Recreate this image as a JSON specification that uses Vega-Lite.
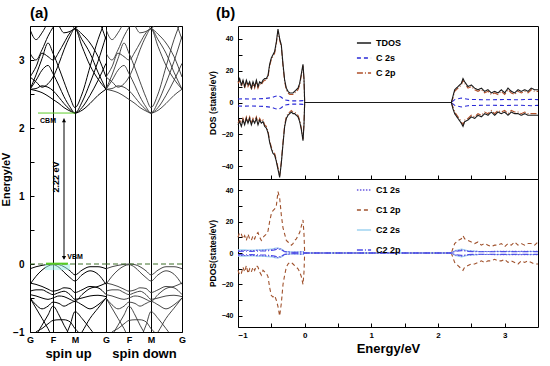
{
"$schema":"https://vega.github.io/schema/vega-lite/v6.json",
"background":"white",
"padding":{"left":0,"top":5,"right":5,"bottom":2},
"spacing":20,
"config":{
 "font":"Liberation Sans",
 "view":{"stroke":"black","strokeWidth":1},
 "mark":{"invalid":"filter"},
 "axis":{"labelFont":"Liberation Sans","titleFont":"Liberation Sans","labelFontWeight":"bold","titleFontWeight":"bold","labelColor":"black","titleColor":"black","domainColor":"black","tickColor":"black","grid":false,"labelOverlap":false},
 "legend":{"labelFont":"Liberation Sans","labelFontWeight":"bold","labelColor":"black"},
 "title":{"font":"Liberation Sans","fontWeight":"bold","fontSize":15,"anchor":"start","color":"black","frame":"group"}
},
"datasets":{
"bands":[
{"b":"C1","k":0,"e":2.57},{"b":"C1","k":6,"e":2.55},{"b":"C1","k":12,"e":2.52},{"b":"C1","k":18,"e":2.47},{"b":"C1","k":23,"e":2.42},{"b":"C1","k":29,"e":2.36},{"b":"C1","k":34,"e":2.30},{"b":"C1","k":40,"e":2.25},{"b":"C1","k":45,"e":2.22},{"b":"C1","k":52,"e":2.26},{"b":"C1","k":60,"e":2.36},{"b":"C1","k":68,"e":2.48},{"b":"C1","k":76,"e":2.57},
{"b":"C2","k":0,"e":2.57},{"b":"C2","k":6,"e":2.58},{"b":"C2","k":12,"e":2.62},{"b":"C2","k":18,"e":2.60},{"b":"C2","k":23,"e":2.55},{"b":"C2","k":29,"e":2.45},{"b":"C2","k":34,"e":2.36},{"b":"C2","k":40,"e":2.27},{"b":"C2","k":45,"e":2.22},{"b":"C2","k":52,"e":2.30},{"b":"C2","k":60,"e":2.48},{"b":"C2","k":68,"e":2.70},{"b":"C2","k":76,"e":2.95},
{"b":"C3","k":0,"e":2.57},{"b":"C3","k":6,"e":2.70},{"b":"C3","k":12,"e":2.85},{"b":"C3","k":18,"e":2.92},{"b":"C3","k":23,"e":2.80},{"b":"C3","k":29,"e":2.62},{"b":"C3","k":34,"e":2.46},{"b":"C3","k":40,"e":2.31},{"b":"C3","k":45,"e":2.22},{"b":"C3","k":52,"e":2.38},{"b":"C3","k":60,"e":2.66},{"b":"C3","k":68,"e":2.98},{"b":"C3","k":76,"e":3.35},
{"b":"C4","k":0,"e":2.57},{"b":"C4","k":6,"e":2.78},{"b":"C4","k":12,"e":3.02},{"b":"C4","k":18,"e":3.25},{"b":"C4","k":23,"e":3.10},{"b":"C4","k":29,"e":2.88},{"b":"C4","k":34,"e":2.68},{"b":"C4","k":40,"e":2.45},{"b":"C4","k":45,"e":2.30},{"b":"C4","k":52,"e":2.50},{"b":"C4","k":60,"e":2.90},{"b":"C4","k":68,"e":3.30},{"b":"C4","k":76,"e":3.60},
{"b":"C5","k":0,"e":2.75},{"b":"C5","k":6,"e":2.68},{"b":"C5","k":12,"e":2.60},{"b":"C5","k":18,"e":2.65},{"b":"C5","k":23,"e":2.75},{"b":"C5","k":29,"e":2.95},{"b":"C5","k":34,"e":3.15},{"b":"C5","k":40,"e":3.35},{"b":"C5","k":45,"e":3.46},{"b":"C5","k":52,"e":3.20},{"b":"C5","k":60,"e":2.92},{"b":"C5","k":68,"e":2.72},{"b":"C5","k":76,"e":2.57},
{"b":"C6","k":0,"e":2.75},{"b":"C6","k":6,"e":2.90},{"b":"C6","k":12,"e":3.10},{"b":"C6","k":18,"e":3.05},{"b":"C6","k":23,"e":3.00},{"b":"C6","k":29,"e":3.12},{"b":"C6","k":34,"e":3.25},{"b":"C6","k":40,"e":3.40},{"b":"C6","k":45,"e":3.46},{"b":"C6","k":52,"e":3.30},{"b":"C6","k":60,"e":3.10},{"b":"C6","k":68,"e":2.82},{"b":"C6","k":76,"e":2.57},
{"b":"C7","k":0,"e":3.10},{"b":"C7","k":6,"e":3.00},{"b":"C7","k":12,"e":3.15},{"b":"C7","k":18,"e":3.35},{"b":"C7","k":23,"e":3.48},{"b":"C7","k":29,"e":3.60},{"b":"C7","k":34,"e":3.70},{"b":"C7","k":40,"e":3.60},{"b":"C7","k":45,"e":3.46},{"b":"C7","k":52,"e":3.60},{"b":"C7","k":60,"e":3.70},{"b":"C7","k":68,"e":3.60},{"b":"C7","k":76,"e":3.30},
{"b":"C8","k":0,"e":3.45},{"b":"C8","k":6,"e":3.30},{"b":"C8","k":12,"e":3.40},{"b":"C8","k":18,"e":3.55},{"b":"C8","k":23,"e":3.65},{"b":"C8","k":29,"e":3.50},{"b":"C8","k":34,"e":3.40},{"b":"C8","k":40,"e":3.42},{"b":"C8","k":45,"e":3.46},{"b":"C8","k":52,"e":3.38},{"b":"C8","k":60,"e":3.25},{"b":"C8","k":68,"e":3.05},{"b":"C8","k":76,"e":2.75},
{"b":"V1","k":0,"e":-0.07},{"b":"V1","k":6,"e":-0.04},{"b":"V1","k":12,"e":-0.02},{"b":"V1","k":18,"e":-0.005},{"b":"V1","k":23,"e":0},{"b":"V1","k":29,"e":-0.01},{"b":"V1","k":34,"e":-0.04},{"b":"V1","k":40,"e":-0.10},{"b":"V1","k":45,"e":-0.16},{"b":"V1","k":52,"e":-0.09},{"b":"V1","k":60,"e":-0.04},{"b":"V1","k":68,"e":-0.04},{"b":"V1","k":76,"e":-0.07},
{"b":"V2","k":0,"e":-0.30},{"b":"V2","k":6,"e":-0.18},{"b":"V2","k":12,"e":-0.09},{"b":"V2","k":18,"e":-0.03},{"b":"V2","k":23,"e":-0.01},{"b":"V2","k":29,"e":-0.05},{"b":"V2","k":34,"e":-0.12},{"b":"V2","k":40,"e":-0.20},{"b":"V2","k":45,"e":-0.25},{"b":"V2","k":52,"e":-0.16},{"b":"V2","k":60,"e":-0.10},{"b":"V2","k":68,"e":-0.15},{"b":"V2","k":76,"e":-0.30},
{"b":"V3","k":0,"e":-0.28},{"b":"V3","k":6,"e":-0.30},{"b":"V3","k":12,"e":-0.33},{"b":"V3","k":18,"e":-0.37},{"b":"V3","k":23,"e":-0.40},{"b":"V3","k":29,"e":-0.38},{"b":"V3","k":34,"e":-0.35},{"b":"V3","k":40,"e":-0.36},{"b":"V3","k":45,"e":-0.42},{"b":"V3","k":52,"e":-0.38},{"b":"V3","k":60,"e":-0.33},{"b":"V3","k":68,"e":-0.35},{"b":"V3","k":76,"e":-0.45},
{"b":"V4","k":0,"e":-0.40},{"b":"V4","k":6,"e":-0.38},{"b":"V4","k":12,"e":-0.38},{"b":"V4","k":18,"e":-0.42},{"b":"V4","k":23,"e":-0.45},{"b":"V4","k":29,"e":-0.42},{"b":"V4","k":34,"e":-0.40},{"b":"V4","k":40,"e":-0.45},{"b":"V4","k":45,"e":-0.52},{"b":"V4","k":52,"e":-0.50},{"b":"V4","k":60,"e":-0.47},{"b":"V4","k":68,"e":-0.46},{"b":"V4","k":76,"e":-0.48},
{"b":"V5","k":0,"e":-0.45},{"b":"V5","k":6,"e":-0.47},{"b":"V5","k":12,"e":-0.50},{"b":"V5","k":18,"e":-0.52},{"b":"V5","k":23,"e":-0.50},{"b":"V5","k":29,"e":-0.47},{"b":"V5","k":34,"e":-0.48},{"b":"V5","k":40,"e":-0.52},{"b":"V5","k":45,"e":-0.55},{"b":"V5","k":52,"e":-0.45},{"b":"V5","k":60,"e":-0.36},{"b":"V5","k":68,"e":-0.33},{"b":"V5","k":76,"e":-0.28},
{"b":"V6","k":0,"e":-0.50},{"b":"V6","k":6,"e":-0.60},{"b":"V6","k":12,"e":-0.66},{"b":"V6","k":18,"e":-0.62},{"b":"V6","k":23,"e":-0.56},{"b":"V6","k":29,"e":-0.58},{"b":"V6","k":34,"e":-0.62},{"b":"V6","k":40,"e":-0.58},{"b":"V6","k":45,"e":-0.55},{"b":"V6","k":52,"e":-0.60},{"b":"V6","k":60,"e":-0.66},{"b":"V6","k":68,"e":-0.60},{"b":"V6","k":76,"e":-0.50},
{"b":"V7","k":0,"e":-0.50},{"b":"V7","k":6,"e":-0.65},{"b":"V7","k":12,"e":-0.80},{"b":"V7","k":18,"e":-0.95},{"b":"V7","k":23,"e":-1.10},{"b":"V7","k":29,"e":-1.20},{"b":"V7","k":34,"e":-1.10},{"b":"V7","k":40,"e":-0.90},{"b":"V7","k":45,"e":-0.70},{"b":"V7","k":52,"e":-0.80},{"b":"V7","k":60,"e":-0.95},{"b":"V7","k":68,"e":-1.10},{"b":"V7","k":76,"e":-1.20},
{"b":"V8","k":0,"e":-1.20},{"b":"V8","k":6,"e":-1.05},{"b":"V8","k":12,"e":-0.90},{"b":"V8","k":18,"e":-0.75},{"b":"V8","k":23,"e":-0.62},{"b":"V8","k":29,"e":-0.75},{"b":"V8","k":34,"e":-0.90},{"b":"V8","k":40,"e":-1.05},{"b":"V8","k":45,"e":-1.15},{"b":"V8","k":52,"e":-1.00},{"b":"V8","k":60,"e":-0.80},{"b":"V8","k":68,"e":-0.65},{"b":"V8","k":76,"e":-0.50},
{"b":"V9","k":0,"e":-1.10},{"b":"V9","k":6,"e":-1.00},{"b":"V9","k":12,"e":-0.95},{"b":"V9","k":18,"e":-0.88},{"b":"V9","k":23,"e":-0.83},{"b":"V9","k":29,"e":-0.82},{"b":"V9","k":34,"e":-0.82},{"b":"V9","k":40,"e":-0.85},{"b":"V9","k":45,"e":-0.95},{"b":"V9","k":52,"e":-1.05},{"b":"V9","k":60,"e":-1.15},{"b":"V9","k":68,"e":-1.10},{"b":"V9","k":76,"e":-1.00}
],
"dos":[
{"E":-1.000,"T":13,"Tn":-14,"P":12,"Pn":-13,"b":10,"bn":-11,"S":2.2,"Sn":-2.2,"a":1.5,"an":-1.5,"c":2,"cn":-2,"d":1,"dn":-1},
{"E":-0.975,"T":15,"Tn":-12,"P":14,"Pn":-11,"b":13,"bn":-14},
{"E":-0.950,"T":11,"Tn":-15,"P":10,"Pn":-14,"b":12,"bn":-13},
{"E":-0.925,"T":14,"Tn":-11,"P":13,"Pn":-10,"b":9,"bn":-9},
{"E":-0.900,"T":10,"Tn":-14,"P":9,"Pn":-13,"b":11,"bn":-12,"S":2.3,"Sn":-2.3,"a":1.6,"an":-1.6,"c":2,"cn":-2,"d":1.2,"dn":-1.2},
{"E":-0.875,"T":14,"Tn":-10,"P":13,"Pn":-9,"b":8,"bn":-8},
{"E":-0.850,"T":11,"Tn":-13,"P":10,"Pn":-12,"b":12,"bn":-13},
{"E":-0.825,"T":13,"Tn":-10,"P":12,"Pn":-9,"b":9,"bn":-10},
{"E":-0.800,"T":9,"Tn":-14,"P":8,"Pn":-13,"b":8,"bn":-12,"S":2.2,"Sn":-2.2,"a":1.5,"an":-1.5,"c":1.8,"cn":-1.8,"d":1,"dn":-1},
{"E":-0.775,"T":13,"Tn":-11,"P":12,"Pn":-10,"b":11,"bn":-9},
{"E":-0.750,"T":10,"Tn":-13,"P":9,"Pn":-12,"b":9,"bn":-11},
{"E":-0.725,"T":14,"Tn":-10,"P":13,"Pn":-9,"b":12,"bn":-8},
{"E":-0.700,"T":10,"Tn":-14,"P":9,"Pn":-13,"b":13,"bn":-9,"S":2.3,"Sn":-2.3,"a":1.7,"an":-1.7,"c":2,"cn":-2,"d":1.2,"dn":-1.2},
{"E":-0.675,"T":13,"Tn":-11,"P":12,"Pn":-10,"b":10,"bn":-12},
{"E":-0.650,"T":12,"Tn":-13,"P":11,"Pn":-12,"b":8,"bn":-14},
{"E":-0.625,"T":14,"Tn":-12,"P":13,"Pn":-11,"b":10,"bn":-11},
{"E":-0.600,"T":15,"Tn":-15,"P":14,"Pn":-14,"b":11,"bn":-12,"S":2.5,"Sn":-2.5,"a":1.8,"an":-1.8,"c":2.2,"cn":-2.2,"d":1.3,"dn":-1.3},
{"E":-0.575,"T":15,"Tn":-16,"P":14,"Pn":-15,"b":12,"bn":-13},
{"E":-0.550,"T":17,"Tn":-19,"P":16,"Pn":-18,"b":14,"bn":-15},
{"E":-0.525,"T":24,"Tn":-25,"P":23,"Pn":-24,"b":20,"bn":-22},
{"E":-0.500,"T":28,"Tn":-29,"P":27,"Pn":-28,"b":25,"bn":-27,"S":3,"Sn":-3,"a":2,"an":-2,"c":2.5,"cn":-2.5,"d":1.6,"dn":-1.6},
{"E":-0.475,"T":30,"Tn":-32,"P":29,"Pn":-31,"b":27,"bn":-28},
{"E":-0.450,"T":32,"Tn":-33,"P":31,"Pn":-32,"b":28,"bn":-27,"S":3.8,"Sn":-3.8,"a":2.5,"an":-2.5,"c":3,"cn":-3,"d":2,"dn":-2},
{"E":-0.425,"T":38,"Tn":-37,"P":37,"Pn":-36,"b":30,"bn":-30},
{"E":-0.400,"T":46,"Tn":-42,"P":45,"Pn":-41,"b":39,"bn":-34,"S":4.3,"Sn":-4.3,"a":3,"an":-3,"c":3.2,"cn":-3.2,"d":2.5,"dn":-2.5},
{"E":-0.375,"T":40,"Tn":-47,"P":39,"Pn":-46,"b":35,"bn":-40},
{"E":-0.350,"T":36,"Tn":-38,"P":35,"Pn":-37,"b":24,"bn":-32,"S":3.3,"Sn":-3.3,"a":2.4,"an":-2.4,"c":2.6,"cn":-2.6,"d":2,"dn":-2},
{"E":-0.325,"T":24,"Tn":-26,"P":23,"Pn":-25,"b":16,"bn":-20},
{"E":-0.300,"T":14,"Tn":-15,"P":13,"Pn":-14,"b":12,"bn":-14,"S":1.6,"Sn":-1.6,"a":1,"an":-1,"c":1,"cn":-1,"d":0.8,"dn":-0.8},
{"E":-0.275,"T":9,"Tn":-10,"P":8,"Pn":-9,"b":8,"bn":-9},
{"E":-0.250,"T":7,"Tn":-8,"P":6,"Pn":-7,"b":7,"bn":-7},
{"E":-0.225,"T":6,"Tn":-7,"P":5,"Pn":-6,"b":6,"bn":-6},
{"E":-0.200,"T":6,"Tn":-6,"P":5,"Pn":-5,"b":5,"bn":-6,"S":1,"Sn":-1,"a":0.5,"an":-0.5,"c":0.6,"cn":-0.6,"d":0.4,"dn":-0.4},
{"E":-0.175,"T":6,"Tn":-7,"P":5,"Pn":-6,"b":6,"bn":-7},
{"E":-0.150,"T":7,"Tn":-7,"P":6,"Pn":-6,"b":8,"bn":-8},
{"E":-0.125,"T":8,"Tn":-8,"P":7,"Pn":-7,"b":9,"bn":-9},
{"E":-0.100,"T":9,"Tn":-9,"P":8,"Pn":-8,"b":11,"bn":-10,"S":1,"Sn":-1,"a":0.5,"an":-0.5,"c":0.6,"cn":-0.6,"d":0.5,"dn":-0.5},
{"E":-0.075,"T":12,"Tn":-12,"P":11,"Pn":-11,"b":13,"bn":-12},
{"E":-0.050,"T":18,"Tn":-17,"P":17,"Pn":-16,"b":17,"bn":-15},
{"E":-0.025,"T":24,"Tn":-24,"P":23,"Pn":-23,"b":21,"bn":-20,"S":1.2,"Sn":-1.2,"a":0.8,"an":-0.8,"c":0.8,"cn":-0.8,"d":0.7,"dn":-0.7},
{"E":-0.010,"T":15,"Tn":-14,"P":14,"Pn":-13,"b":12,"bn":-12},
{"E":0.000,"T":0,"Tn":0,"P":0,"Pn":0,"b":0,"bn":0,"S":0,"Sn":0,"a":0,"an":0,"c":0,"cn":0,"d":0,"dn":0},
{"E":2.200,"T":0,"Tn":0,"P":0,"Pn":0,"b":0,"bn":0,"S":0,"Sn":0,"a":0,"an":0,"c":0,"cn":0,"d":0,"dn":0},
{"E":2.225,"T":4,"Tn":-4,"P":3,"Pn":-3,"b":3,"bn":-3},
{"E":2.250,"T":8,"Tn":-7,"P":7,"Pn":-6,"b":6,"bn":-6,"S":1.8,"Sn":-1.8,"a":1.2,"an":-1.2,"c":1.5,"cn":-1.5,"d":1,"dn":-1},
{"E":2.300,"T":10,"Tn":-10,"P":9,"Pn":-9,"b":8,"bn":-8},
{"E":2.350,"T":12,"Tn":-13,"P":11,"Pn":-12,"b":9,"bn":-10,"S":2.8,"Sn":-2.8,"a":2,"an":-2,"c":2.5,"cn":-2.5,"d":1.5,"dn":-1.5},
{"E":2.375,"T":15,"Tn":-15,"P":14,"Pn":-14,"b":11,"bn":-11},
{"E":2.400,"T":13,"Tn":-12,"P":12,"Pn":-11,"b":9,"bn":-9},
{"E":2.450,"T":10,"Tn":-11,"P":9,"Pn":-10,"b":8,"bn":-8,"S":2,"Sn":-2,"a":1.3,"an":-1.3,"c":1.5,"cn":-1.5,"d":1,"dn":-1},
{"E":2.500,"T":11,"Tn":-9,"P":10,"Pn":-8,"b":7,"bn":-7},
{"E":2.550,"T":9,"Tn":-10,"P":8,"Pn":-9,"b":6,"bn":-7},
{"E":2.600,"T":8,"Tn":-8,"P":7,"Pn":-7,"b":7,"bn":-6,"S":1.8,"Sn":-1.8,"a":1,"an":-1,"c":1,"cn":-1,"d":0.8,"dn":-0.8},
{"E":2.650,"T":9,"Tn":-9,"P":8,"Pn":-8,"b":5,"bn":-5},
{"E":2.700,"T":7,"Tn":-7,"P":6,"Pn":-6,"b":6,"bn":-6},
{"E":2.750,"T":8,"Tn":-8,"P":7,"Pn":-7,"b":5,"bn":-5},
{"E":2.800,"T":6,"Tn":-6,"P":5,"Pn":-5,"b":4,"bn":-5,"S":1.7,"Sn":-1.7,"a":1,"an":-1,"c":1,"cn":-1,"d":0.8,"dn":-0.8},
{"E":2.850,"T":7,"Tn":-8,"P":6,"Pn":-7,"b":5,"bn":-4},
{"E":2.900,"T":6,"Tn":-6,"P":5,"Pn":-5,"b":5,"bn":-5},
{"E":2.950,"T":8,"Tn":-7,"P":7,"Pn":-6,"b":6,"bn":-5},
{"E":3.000,"T":6,"Tn":-6,"P":5,"Pn":-5,"b":4,"bn":-4,"S":1.9,"Sn":-1.9,"a":1.1,"an":-1.1,"c":1,"cn":-1,"d":0.9,"dn":-0.9},
{"E":3.050,"T":9,"Tn":-8,"P":8,"Pn":-7,"b":6,"bn":-6},
{"E":3.100,"T":7,"Tn":-6,"P":6,"Pn":-5,"b":5,"bn":-5},
{"E":3.150,"T":6,"Tn":-7,"P":5,"Pn":-6,"b":7,"bn":-6},
{"E":3.200,"T":8,"Tn":-7,"P":7,"Pn":-6,"b":5,"bn":-7,"S":1.7,"Sn":-1.7,"a":1,"an":-1,"c":1,"cn":-1,"d":0.8,"dn":-0.8},
{"E":3.250,"T":7,"Tn":-8,"P":6,"Pn":-7,"b":6,"bn":-5},
{"E":3.300,"T":8,"Tn":-7,"P":7,"Pn":-6,"b":5,"bn":-6},
{"E":3.350,"T":7,"Tn":-8,"P":6,"Pn":-7,"b":6,"bn":-5},
{"E":3.400,"T":9,"Tn":-8,"P":8,"Pn":-7,"b":6,"bn":-6,"S":2,"Sn":-2,"a":1.1,"an":-1.1,"c":1,"cn":-1,"d":0.9,"dn":-0.9},
{"E":3.450,"T":8,"Tn":-8,"P":7,"Pn":-7,"b":5,"bn":-7},
{"E":3.500,"T":8,"Tn":-8,"P":7,"Pn":-7,"b":7,"bn":-7,"S":1.8,"Sn":-1.8,"a":1,"an":-1,"c":1,"cn":-1,"d":0.8,"dn":-0.8}
]
},
"hconcat":[
{
 "title":{"text":"(a)","offset":5},
 "spacing":0,
 "bounds":"flush",
 "hconcat":[
  {
   "width":76,"height":306,
   "encoding":{
      "x":{"field":"k","type":"quantitative","scale":{"domain":[0,76],"nice":false},
           "axis":{"values":[0,23,45],"labelExpr":"datum.value==23?'F':datum.value==45?'M':'G'","labelFlush":false,"labelOverlap":false,"title":"spin up","titleFontSize":13,"titlePadding":3,"labelFontSize":9,"labelPadding":3,"ticks":false,"domain":false,"grid":true,"gridColor":"black","gridOpacity":1,"gridWidth":1}},
      "y":{"field":"e","type":"quantitative","scale":{"domain":[-1,3.5],"nice":false},
           "axis":{"values":[-1,-0.5,0,0.5,1,1.5,2,2.5,3],"labelExpr":"datum.value%1==0?format(datum.value,'d'):''","labelOverlap":false,"title":"Energy/eV","titleFontSize":11,"titlePadding":1,"labelFontSize":10,"tickSize":-4,"labelPadding":10,"domain":false}}},
   "layer":[
    {"data":{"name":"bands"},
     "mark":{"type":"line","clip":true,"color":"black","strokeWidth":1,"interpolate":"monotone"},
     "encoding":{"detail":{"field":"b"}}},
    {"data":{"values":[{"k":15,"k2":40,"e":-0.09,"e2":0}]},"mark":{"type":"rect","color":"#9fece6","opacity":0.55},"encoding":{"x2":{"field":"k2"},"y2":{"field":"e2"}}},
    {"data":{"values":[{"k":0,"k2":76,"e":0}]},"mark":{"type":"rule","color":"#3c6e28","strokeDash":[5,3],"strokeWidth":1},"encoding":{"x2":{"field":"k2"}}},
    {"data":{"values":[{"k":8,"k2":45,"e":2.22}]},"mark":{"type":"rule","color":"#5ccc2a","strokeWidth":1},"encoding":{"x2":{"field":"k2"}}},
    {"data":{"values":[{"k":16,"k2":38,"e":0.005}]},"mark":{"type":"rule","color":"#55cc22","strokeWidth":2},"encoding":{"x2":{"field":"k2"}}},
    {"data":{"values":[{"k":34,"e":0.08,"e2":2.14}]},"mark":{"type":"rule","color":"black","strokeWidth":1},"encoding":{"y2":{"field":"e2"}}},
    {"data":{"values":[{"k":34,"e":2.11}]},"mark":{"type":"point","shape":"triangle-up","filled":true,"color":"black","size":18,"opacity":1},"encoding":{}},
    {"data":{"values":[{"k":34,"e":0.09}]},"mark":{"type":"point","shape":"triangle-down","filled":true,"color":"black","size":18,"opacity":1},"encoding":{}},
    {"data":{"values":[{"k":18,"e":2.1,"t":"CBM"},{"k":45,"e":0.11,"t":"VBM"}]},"mark":{"type":"text","fontSize":7,"fontWeight":"bold","color":"black"},"encoding":{"text":{"field":"t"}}},
    {"data":{"values":[{"k":26,"e":1.28,"t":"2.22 eV"}]},"mark":{"type":"text","fontSize":9,"fontWeight":"bold","angle":270,"color":"black"},"encoding":{"text":{"field":"t"}}}
   ]
  },
  {
   "width":76,"height":306,
   "layer":[
    {"data":{"name":"bands"},
     "mark":{"type":"line","clip":true,"color":"#333333","strokeWidth":0.9,"interpolate":"monotone"},
     "encoding":{
      "x":{"field":"k","type":"quantitative","scale":{"domain":[0,76],"nice":false},
           "axis":{"values":[0,23,45,76],"labelExpr":"datum.value==23?'F':datum.value==45?'M':'G'","labelFlush":false,"labelOverlap":false,"title":"spin down","titleFontSize":13,"titlePadding":3,"labelFontSize":9,"labelPadding":3,"ticks":false,"domain":false,"grid":true,"gridColor":"black","gridOpacity":1,"gridWidth":1}},
      "y":{"field":"e","type":"quantitative","scale":{"domain":[-1,3.5],"nice":false},"axis":null},
      "detail":{"field":"b"}}},
    {"data":{"values":[{}]},"mark":{"type":"rule","color":"#3c6e28","strokeDash":[5,3],"strokeWidth":1},"encoding":{"y":{"datum":0}}}
   ]
  }
 ]
},
{
 "title":{"text":"(b)","offset":5,"dx":-22},
 "spacing":0,
 "bounds":"flush",
 "resolve":{"scale":{"color":"independent","strokeDash":"independent"},"legend":{"color":"independent","strokeDash":"independent"}},
 "vconcat":[
  {
   "width":300,"height":153,
   "data":{"name":"dos"},
   "encoding":{"x":{"field":"E","type":"quantitative","scale":{"domain":[-1,3.5],"nice":false},
     "axis":{"values":[-1,-0.5,0,0.5,1,1.5,2,2.5,3],"labels":false,"title":null,"tickSize":-4,"domain":false}}},
   "layer":[
    {"transform":[{"fold":["S","Sn","P","Pn","T","Tn"],"as":["key","v"]}],
     "mark":{"type":"line","strokeWidth":1.1},
     "encoding":{
      "y":{"field":"v","type":"quantitative","scale":{"domain":[-48,48],"nice":false},"axis":{"values":[-40,-30,-20,-10,0,10,20,30,40],"labelExpr":"datum.value%20==0?format(datum.value,'d'):''","labelOverlap":false,"title":"DOS (states/eV)","titleFontSize":8.5,"titlePadding":4,"labelFontSize":7,"tickSize":-4,"labelPadding":9,"domain":false}},
      "color":{"field":"key","type":"nominal","scale":{"domain":["S","Sn","P","Pn","T","Tn"],"range":["#2a2ad6","#2a2ad6","#b0502a","#b0502a","#1a1a1a","#1a1a1a"]},
        "legend":{"values":["T","S","P"],"labelExpr":"datum.value=='T'?'TDOS':datum.value=='S'?'C 2s':'C 2p'","orient":"none","legendX":118,"legendY":9,"title":null,"labelFontSize":9,"symbolType":"stroke","symbolSize":200,"symbolStrokeWidth":1.6,"rowPadding":2}},
      "strokeDash":{"field":"key","type":"nominal","scale":{"domain":["S","Sn","P","Pn","T","Tn"],"range":[[4,3],[4,3],[6,2,1,2],[6,2,1,2],[1,0],[1,0]]},
        "legend":{"values":["T","S","P"],"labelExpr":"datum.value=='T'?'TDOS':datum.value=='S'?'C 2s':'C 2p'","orient":"none","legendX":118,"legendY":9,"title":null,"labelFontSize":9,"symbolType":"stroke","symbolSize":200,"symbolStrokeWidth":1.6,"rowPadding":2}}}},
    {"data":{"values":[{}]},"mark":{"type":"rule","color":"#8a8a40","strokeDash":[2,2],"strokeWidth":1},"encoding":{"x":{"datum":0}}}
   ]
  },
  {
   "width":300,"height":148,
   "data":{"name":"dos"},
   "encoding":{"x":{"field":"E","type":"quantitative","scale":{"domain":[-1,3.5],"nice":false},
     "axis":{"values":[-1,-0.5,0,0.5,1,1.5,2,2.5,3],"labelExpr":"datum.value%1==0?format(datum.value,'d'):''","labelOverlap":false,"title":"Energy/eV","titleFontSize":13,"titlePadding":3,"labelFontSize":8,"tickSize":-4,"labelPadding":8,"domain":false}}},
   "layer":[
    {"transform":[{"fold":["b","bn","c","cn","a","an","d","dn"],"as":["key","v"]}],
     "mark":{"type":"line","strokeWidth":1.1},
     "encoding":{
      "y":{"field":"v","type":"quantitative","scale":{"domain":[-47,47],"nice":false},"axis":{"values":[-40,-30,-20,-10,0,10,20,30,40],"labelExpr":"datum.value%20==0?format(datum.value,'d'):''","labelOverlap":false,"title":"PDOS(states/eV)","titleFontSize":8.5,"titlePadding":4,"labelFontSize":7,"tickSize":-4,"labelPadding":9,"domain":false}},
      "color":{"field":"key","type":"nominal","scale":{"domain":["b","bn","c","cn","a","an","d","dn"],"range":["#a0522d","#a0522d","#9fd3f0","#9fd3f0","#6a5ae0","#6a5ae0","#4d4de6","#4d4de6"]},
        "legend":{"values":["a","b","c","d"],"labelExpr":"datum.value=='a'?'C1 2s':datum.value=='b'?'C1 2p':datum.value=='c'?'C2 2s':'C2 2p'","orient":"none","legendX":118,"legendY":3,"title":null,"labelFontSize":9,"symbolType":"stroke","symbolSize":200,"symbolStrokeWidth":1.5,"rowPadding":7}},
      "strokeDash":{"field":"key","type":"nominal","scale":{"domain":["b","bn","c","cn","a","an","d","dn"],"range":[[4,3],[4,3],[1,0],[1,0],[1.5,1.5],[1.5,1.5],[6,2,1,2],[6,2,1,2]]},
        "legend":{"values":["a","b","c","d"],"labelExpr":"datum.value=='a'?'C1 2s':datum.value=='b'?'C1 2p':datum.value=='c'?'C2 2s':'C2 2p'","orient":"none","legendX":118,"legendY":3,"title":null,"labelFontSize":9,"symbolType":"stroke","symbolSize":200,"symbolStrokeWidth":1.5,"rowPadding":7}}}},
    {"data":{"values":[{}]},"mark":{"type":"rule","color":"#8a8a40","strokeDash":[2,2],"strokeWidth":1},"encoding":{"x":{"datum":0}}}
   ]
  }
 ]
}
]
}
